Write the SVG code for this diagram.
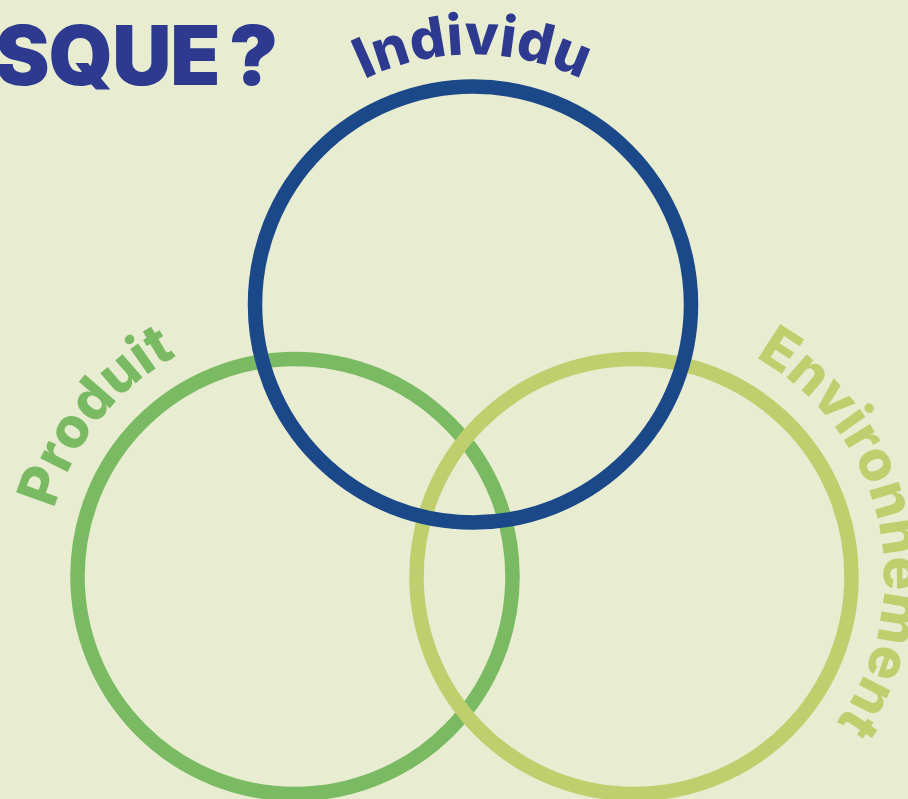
<svg xmlns="http://www.w3.org/2000/svg" xmlns:xlink="http://www.w3.org/1999/xlink" width="908" height="799" viewBox="0 0 908 799">
<defs>
<style>
.ring{fill:none;stroke-width:14.5}
.lbl{font-family:Inter,"DejaVu Sans",sans-serif;font-weight:800;font-size:56px}
</style>
<path id="pInd" d="M223,304.5 A250,250 0 0 1 723,304.5"/>
<path id="pProd" d="M295,826 A250,250 0 1 1 295,326 A250,250 0 1 1 295,826"/>
<path id="pEnv" d="M634,326 A250,250 0 1 1 634,826 A250,250 0 1 1 634,326"/>
</defs>
<rect width="908" height="799" fill="#e8edd2"/>
<g id="title">
<text x="-5" y="85" font-family="Inter,'DejaVu Sans',sans-serif" font-weight="900" font-size="82" letter-spacing="-1" word-spacing="-6" fill="#2d3a8f">SQUE ?</text>
</g>
<g id="connectors"/>
<g id="produit">
<circle class="ring" cx="295" cy="576.5" r="217.5" stroke="#7aba62"/>
<text class="lbl" fill="#7aba62"><textPath xlink:href="#pProd" href="#pProd" startOffset="561" text-anchor="middle">Produit</textPath></text>
</g>
<g id="environnement">
<circle class="ring" cx="634" cy="576.5" r="217.5" stroke="#bfcf6e"/>
<text class="lbl" fill="#bfcf6e"><textPath xlink:href="#pEnv" href="#pEnv" startOffset="338" text-anchor="middle">Environnement</textPath></text>
</g>
<g id="individu">
<circle class="ring" cx="473" cy="304.5" r="218" stroke="#1b4888"/>
<text class="lbl" fill="#2d3a8f"><textPath xlink:href="#pInd" href="#pInd" startOffset="50%" text-anchor="middle">Individu</textPath></text>
</g>
</svg>
